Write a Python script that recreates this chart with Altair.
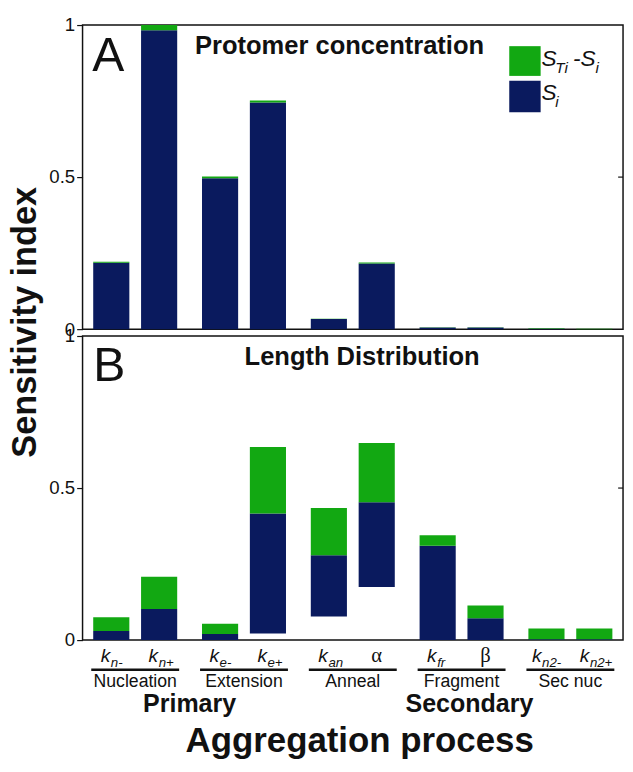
import altair as alt
import pandas as pd

# ---------------- data ----------------
groups = ["Nucleation", "Extension", "Anneal", "Fragment", "Sec nuc"]
bar_group = ["Nucleation", "Nucleation", "Extension", "Extension", "Anneal",
             "Anneal", "Fragment", "Fragment", "Sec nuc", "Sec nuc"]
slot = ["1", "2", "1", "2", "1", "2", "1", "2", "1", "2"]
label_main = ["k", "k", "k", "k", "k", "α", "k", "β", "k", "k"]
label_sub = ["n-", "n+", "e-", "e+", "an", "", "fr", "", "n2-", "n2+"]
stage_names = ["Primary", "Secondary"]

# Panel A: protomer concentration
a_lo = [0, 0, 0, 0, 0, 0, 0, 0, 0, 0]
a_si = [0.218, 0.983, 0.496, 0.745, 0.033, 0.216, 0.005, 0.005, 0.001, 0.0]
a_st = [0.222, 1.000, 0.502, 0.752, 0.034, 0.219, 0.006, 0.006, 0.003, 0.001]

# Panel B: length distribution
b_lo = [0, 0, 0, 0.022, 0.078, 0.175, 0, 0, 0, 0]
b_si = [0.030, 0.102, 0.020, 0.416, 0.279, 0.453, 0.310, 0.072, 0.003, 0.003]
b_st = [0.075, 0.208, 0.054, 0.635, 0.434, 0.648, 0.345, 0.114, 0.038, 0.038]


def frame(lo, si, st):
    return pd.DataFrame({"group": bar_group, "slot": slot, "main": label_main,
                         "sub": label_sub, "lo": lo, "si": si, "st": st})


df_a = frame(a_lo, a_si, a_st)
df_b = frame(b_lo, b_si, b_st)
df_groups = pd.DataFrame({"group": groups})

# ---------------- style ----------------
W, H = 551, 310
NAVY = "#0a1a5e"
GREEN = "#12a812"
INK = "#111111"
FONT = "Liberation Sans"
SERIF = "Liberation Serif"
PI, PO = 0.192, 0.08

xscale = alt.Scale(domain=groups, paddingInner=PI, paddingOuter=PO)
oscale = alt.Scale(domain=["1", "2"], paddingInner=0.245, paddingOuter=0.041)
yscale = alt.Scale(domain=[0, 1], nice=False, zero=True)
yaxis = alt.Axis(values=[0, 0.5, 1], format=".1~f", title=None, grid=False,
                 domain=False, tickSize=6, tickColor=INK, tickWidth=1.2,
                 labelFontSize=19, labelColor=INK, labelFont=FONT,
                 labelPadding=2, labelFlush=False, labelOverlap=False,
                 labelBound=False)


def xenc():
    return alt.X("group:N", scale=xscale, axis=None)


def oenc():
    return alt.XOffset("slot:N", scale=oscale)


def label(text, x, y, size, weight="normal", style="normal", align="left",
          font=FONT, angle=0):
    return alt.Chart(pd.DataFrame({"t": [text]})).mark_text(
        align=align, baseline="alphabetic", fontSize=size, fontWeight=weight,
        fontStyle=style, font=font, color=INK, angle=angle
    ).encode(text="t:N", x=alt.value(x), y=alt.value(y))


def bars(df):
    navy = alt.Chart(df).mark_bar(color=NAVY).encode(
        x=xenc(), xOffset=oenc(),
        y=alt.Y("lo:Q", scale=yscale, axis=yaxis), y2="si:Q")
    green = alt.Chart(df).mark_bar(color=GREEN).encode(
        x=xenc(), xOffset=oenc(),
        y=alt.Y("si:Q", scale=yscale, axis=yaxis), y2="st:Q")
    tick = alt.Chart(pd.DataFrame({"v": [0.5]})).mark_rule(
        color=INK, strokeWidth=1.2).encode(
        y=alt.Y("v:Q", scale=yscale, axis=yaxis),
        x=alt.value(W - 5), x2=alt.value(W))
    return [navy, green, tick]


# ---------------- panel A ----------------
sy = H / 317.0
legend_parts = [
    alt.Chart(pd.DataFrame({"t": ["a"]})).mark_rect(color=GREEN).encode(
        x=alt.value(W - 116), x2=alt.value(W - 84),
        y=alt.value(22 * sy), y2=alt.value(53 * sy)),
    alt.Chart(pd.DataFrame({"t": ["b"]})).mark_rect(color=NAVY).encode(
        x=alt.value(W - 116), x2=alt.value(W - 84),
        y=alt.value(58 * sy), y2=alt.value(91 * sy)),
    label("S", W - 83, 42.7 * sy, 23, style="italic"),
    label("Ti", W - 69, 49.5 * sy, 15.5, style="italic"),
    label("-S", W - 51, 42.7 * sy, 23, style="italic"),
    label("i", W - 28, 49.5 * sy, 15.5, style="italic"),
    label("S", W - 83, 78 * sy, 23, style="italic"),
    label("i", W - 69, 85 * sy, 15.5, style="italic"),
]

panel_a = alt.layer(
    *bars(df_a),
    label("A", 10, 48 * sy, 49),
    label("Protomer concentration", 262, 30 * sy, 26, weight="bold",
          align="center"),
    *legend_parts,
).properties(width=W, height=H)

# ---------------- panel B ----------------
step = W / (5 - PI + 2 * PO)
bw = step * (1 - PI)
po = PO * step
centers = [po + k * step + bw / 2 for k in range(5)]
primary_x = (centers[0] + centers[1]) / 2
secondary_x = centers[3]

k2 = alt.Chart(df_b).transform_filter(
    "datum.main == 'k' && length(datum.sub) == 2")
k3 = alt.Chart(df_b).transform_filter(
    "datum.main == 'k' && length(datum.sub) == 3")


def kmain(base, dx):
    return base.mark_text(align="right", baseline="alphabetic", fontSize=19.5,
                          fontStyle="italic", font=FONT, color=INK, dx=dx
                          ).encode(x=xenc(), xOffset=oenc(),
                                   y=alt.value(H + 22.7), text="main:N")


def ksub(base, dx):
    return base.mark_text(align="left", baseline="alphabetic", fontSize=13.5,
                          fontStyle="italic", font=FONT, color=INK, dx=dx
                          ).encode(x=xenc(), xOffset=oenc(),
                                   y=alt.value(H + 27.3), text="sub:N")


greek = alt.Chart(df_b).transform_filter("datum.main != 'k'").mark_text(
    align="center", baseline="alphabetic", fontSize=21, font=SERIF, color=INK
).encode(x=xenc(), xOffset=oenc(), y=alt.value(H + 22.7), text="main:N")

underline = alt.Chart(df_groups).mark_rect(color=INK).encode(
    x=xenc(), y=alt.value(H + 29), y2=alt.value(H + 31.5))

group_text = alt.Chart(df_groups).mark_text(
    align="center", baseline="alphabetic", fontSize=18, font=FONT, color=INK
).encode(x=xenc(), y=alt.value(H + 47.5), text="group:N")

panel_b = alt.layer(
    *bars(df_b),
    label("B", 11, 47 * sy, 49),
    label("Length Distribution", 285, 30 * sy, 26, weight="bold",
          align="center"),
    kmain(k2, -1), ksub(k2, -0.5),
    kmain(k3, -5), ksub(k3, -4.5),
    greek, underline, group_text,
    label(stage_names[0], primary_x, H + 73, 25.5, weight="bold",
          align="center"),
    label(stage_names[1], secondary_x + 8, H + 73, 25.5, weight="bold",
          align="center"),
    label("Aggregation process", W / 2 + 7, H + 114, 35.5, weight="bold",
          align="center"),
    label("Sensitivity index", -47, -14, 35, weight="bold", align="center",
          angle=270),
).properties(width=W, height=H)

chart = alt.vconcat(panel_a, panel_b, spacing=7, bounds="flush").resolve_scale(
    x="independent", y="independent", xOffset="independent"
).properties(
    padding=0
).configure_view(
    stroke=INK, strokeWidth=1.5
)

chart.save("out.html", embed_options={"renderer": "svg", "actions": False})
